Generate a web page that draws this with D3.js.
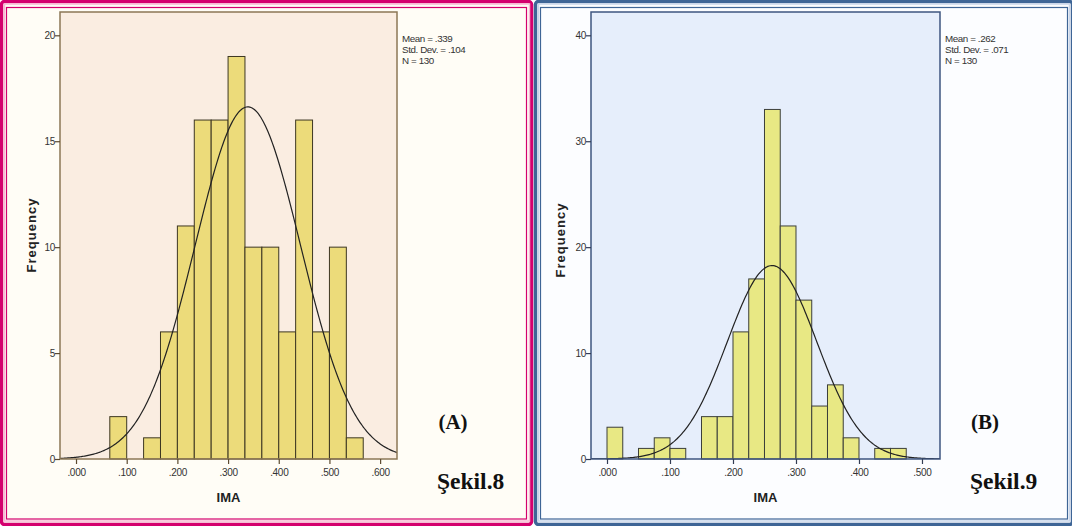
<!DOCTYPE html>
<html><head><meta charset="utf-8">
<script src="https://cdn.jsdelivr.net/npm/d3@7"></script>
<style>html,body{margin:0;padding:0;background:#fff;}svg{display:block;}</style>
</head><body>
<svg id="c" width="1072" height="526"></svg>
<script>
// ---- Data ----
// Panel A (Şekil.8): bins of width 1/30 starting at 0.0667
const binStartA = 0.2 / 3;
const binWidthA = 0.1 / 3;
const countsA = [2, 0, 1, 6, 11, 16, 16, 19, 10, 10, 6, 16, 6, 10, 1];
const statsA = { mean: 0.339, sd: 0.104, n: 130 };
const xTicksA = [0, 0.1, 0.2, 0.3, 0.4, 0.5, 0.6];
const yTicksA = [0, 5, 10, 15, 20];

// Panel B (Şekil.9): bins of width 0.025 starting at 0
const binStartB = 0.0;
const binWidthB = 0.025;
const countsB = [3, 0, 1, 2, 1, 0, 4, 4, 12, 17, 33, 22, 15, 5, 7, 2, 0, 1, 1];
const statsB = { mean: 0.262, sd: 0.071, n: 130 };
const xTicksB = [0, 0.1, 0.2, 0.3, 0.4, 0.5];
const yTicksB = [0, 10, 20, 30, 40];

const statLabelsA = ["Mean = .339", "Std. Dev. = .104", "N = 130"];
const statLabelsB = ["Mean = .262", "Std. Dev. = .071", "N = 130"];

const svg = d3.select("#c");
const fmt = d => d3.format(".3f")(d).replace(/^0/, "");

function frame(x0, x1, outer, inner, fill) {
  svg.append("rect").attr("x", x0 + 1.5).attr("y", 1.5).attr("width", x1 - x0 - 3).attr("height", 523)
    .attr("rx", 3).attr("fill", fill).attr("stroke", outer).attr("stroke-width", 3.5);
  svg.append("rect").attr("x", x0 + 6.5).attr("y", 7.5).attr("width", x1 - x0 - 13).attr("height", 511.5)
    .attr("fill", "none").attr("stroke", inner).attr("stroke-width", 1.2);
}

function panel(cfg) {
  const g = svg.append("g");
  const x = d3.scaleLinear().domain(cfg.xDomain).range([cfg.left, cfg.right]);
  const y = d3.scaleLinear().domain(cfg.yDomain).range([cfg.bottom, cfg.top]);
  const id = "clip" + cfg.name;
  svg.append("clipPath").attr("id", id).append("rect")
    .attr("x", cfg.left).attr("y", cfg.top).attr("width", cfg.right - cfg.left).attr("height", cfg.bottom - cfg.top);
  g.append("rect").attr("x", cfg.left).attr("y", cfg.top).attr("width", cfg.right - cfg.left)
    .attr("height", cfg.bottom - cfg.top).attr("fill", cfg.plotBg);
  const bins = cfg.counts.map((c, i) => ({ x0: cfg.binStart + i * cfg.binWidth, x1: cfg.binStart + (i + 1) * cfg.binWidth, c }))
    .filter(b => b.c > 0);
  g.selectAll("rect.bar").data(bins).enter().append("rect").attr("class", "bar")
    .attr("x", d => x(d.x0)).attr("width", d => x(d.x1) - x(d.x0))
    .attr("y", d => y(d.c)).attr("height", d => y(0) - y(d.c))
    .attr("fill", cfg.barFill).attr("stroke", cfg.barStroke).attr("stroke-width", 1);
  // normal curve
  const s = cfg.stats;
  const k = s.n * cfg.binWidth / (s.sd * Math.sqrt(2 * Math.PI));
  const xs = d3.range(0, 301).map(i => cfg.xDomain[0] + (cfg.xDomain[1] - cfg.xDomain[0]) * i / 300);
  const line = d3.line().x(d => x(d)).y(d => y(k * Math.exp(-0.5 * Math.pow((d - s.mean) / s.sd, 2))));
  g.append("path").datum(xs).attr("d", line).attr("fill", "none").attr("stroke", "#222")
    .attr("stroke-width", 1.2).attr("clip-path", `url(#${id})`);
  // box
  g.append("rect").attr("x", cfg.left).attr("y", cfg.top).attr("width", cfg.right - cfg.left)
    .attr("height", cfg.bottom - cfg.top).attr("fill", "none").attr("stroke", cfg.boxStroke).attr("stroke-width", 1.5);
  // axes
  const xa = g.append("g").attr("transform", `translate(0,${cfg.bottom})`)
    .call(d3.axisBottom(x).tickValues(cfg.xTicks).tickFormat(fmt).tickSize(5).tickSizeOuter(0));
  const ya = g.append("g").attr("transform", `translate(${cfg.left},0)`)
    .call(d3.axisLeft(y).tickValues(cfg.yTicks).tickFormat(d3.format("d")).tickSize(5).tickSizeOuter(0));
  [xa, ya].forEach(a => {
    a.select(".domain").remove();
    a.selectAll("line").attr("stroke", cfg.tickColor).attr("stroke-width", 1.2);
    a.selectAll("text").attr("fill", "#333").style("font-family", "Liberation Sans, Arial, sans-serif")
      .style("font-size", "10px").style("letter-spacing", "-0.3px");
  });
  xa.selectAll("text").attr("dy", "0.75em").attr("y", 9);
  ya.selectAll("text").attr("x", -5);
  // axis titles
  g.append("text").attr("x", (cfg.left + cfg.right) / 2).attr("y", 502).attr("text-anchor", "middle")
    .style("font-family", "Liberation Sans, Arial, sans-serif").style("font-weight", "bold").style("font-size", "13px")
    .attr("fill", "#222").text("IMA");
  g.append("text").attr("transform", `translate(${cfg.freqX},${cfg.freqY}) rotate(-90)`)
    .attr("text-anchor", "middle").attr("dy", "0.35em")
    .style("font-family", "Liberation Sans, Arial, sans-serif").style("font-weight", "bold").style("font-size", "13px")
    .style("letter-spacing", "1px").attr("fill", "#222").text("Frequency");
  // stats
  g.selectAll("text.stat").data(cfg.statLabels).enter().append("text").attr("class", "stat")
    .attr("x", cfg.right + 5).attr("y", (d, i) => 42 + i * 11.2)
    .style("font-family", "Liberation Sans, Arial, sans-serif").style("font-size", "9.8px").style("letter-spacing", "-0.4px")
    .attr("fill", "#333").text(d => d);
  // labels
  g.append("text").attr("x", cfg.tagX).attr("y", 429).attr("text-anchor", "middle")
    .style("font-family", "Liberation Serif, Times New Roman, serif").style("font-weight", "bold").style("font-size", "21px")
    .attr("fill", "#111").text(cfg.tag);
  g.append("text").attr("x", cfg.sekilX).attr("y", 489)
    .style("font-family", "Liberation Serif, Times New Roman, serif").style("font-weight", "bold").style("font-size", "23.5px")
    .attr("fill", "#111").text(cfg.sekil);
}

frame(0, 533, "#d4006e", "#d4006e", "#fffdf6");
svg.append("rect").attr("x", 4.5).attr("y", 4).attr("width", 525).attr("height", 517).attr("fill", "none")
  .attr("stroke", "#f7b8d4").attr("stroke-width", 1.5);
frame(534, 1074, "#3e6596", "#3e6596", "#fcfdff");
svg.append("rect").attr("x", 538.5).attr("y", 4).attr("width", 531).attr("height", 517).attr("fill", "none")
  .attr("stroke", "#c9d6ea").attr("stroke-width", 1.5);

panel({
  name: "A", left: 60, right: 397, top: 12, bottom: 459,
  xDomain: [-0.0316, 0.6333], yDomain: [0, 21.1],
  counts: countsA, binStart: binStartA, binWidth: binWidthA, stats: statsA,
  xTicks: xTicksA, yTicks: yTicksA,
  plotBg: "#faede1", barFill: "#ecdb7a", barStroke: "#3d3722", boxStroke: "#8c7756", tickColor: "#5c4a30",
  freqX: 31, freqY: 235, statLabels: statLabelsA, tag: "(A)", tagX: 453, sekil: "Şekil.8", sekilX: 437
});
panel({
  name: "B", left: 591, right: 940, top: 12, bottom: 459,
  xDomain: [-0.0254, 0.5286], yDomain: [0, 42.2],
  counts: countsB, binStart: binStartB, binWidth: binWidthB, stats: statsB,
  xTicks: xTicksB, yTicks: yTicksB,
  plotBg: "#e6eefb", barFill: "#e8e884", barStroke: "#3c3f3a", boxStroke: "#3e5580", tickColor: "#333d55",
  freqX: 560, freqY: 240, statLabels: statLabelsB, tag: "(B)", tagX: 985, sekil: "Şekil.9", sekilX: 970
});
</script>
</body></html>
